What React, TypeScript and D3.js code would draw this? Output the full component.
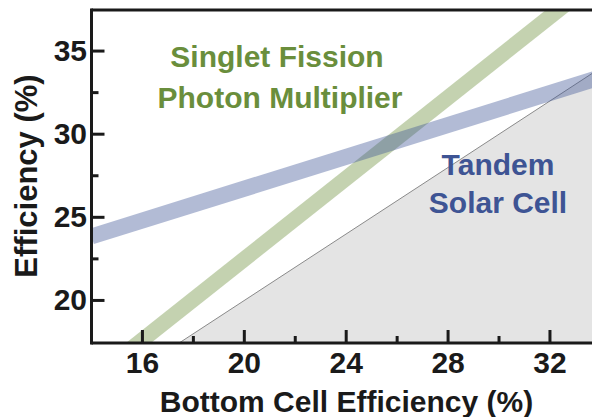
import * as d3 from "d3";
import React from "react";

// bottom cell efficiency (%) -> efficiency (%)
const singletFission = [
  { x: 14, y: 15.2 },
  { x: 34, y: 39.5 },
];
const tandem = [
  { x: 14, y: 23.85 },
  { x: 34, y: 33.43 },
];
// single junction limit (y = x), shaded below
const bottomCellOnly = [
  { x: 14, y: 14 },
  { x: 34, y: 34 },
];

const xMajor = [16, 20, 24, 28, 32];
const xMinor = [18, 22, 26, 30];
const yMajor = [20, 25, 30, 35];
const yMinor = [22.5, 27.5, 32.5];

const W = 592;
const H = 417;
const FONT = "'Liberation Sans', Arial, Helvetica, sans-serif";

export default function App() {
  const x = d3.scaleLinear().domain([14, 34]).range([91.5, 600.9]);
  const y = d3.scaleLinear().domain([17.44, 37.47]).range([343, 10]);

  const left = x(14);
  const top = y(37.47);
  const bottom = y(17.44);

  const line = d3
    .line<{ x: number; y: number }>()
    .x((d) => x(d.x))
    .y((d) => y(d.y));

  const area = d3
    .area<{ x: number; y: number }>()
    .x((d) => x(d.x))
    .y0(bottom)
    .y1((d) => y(d.y));

  return (
    <svg
      width={W}
      height={H}
      style={{ position: "absolute", left: 0, top: 0, background: "#fff" }}
    >
      <defs>
        <clipPath id="plot">
          <rect x={left} y={top} width={W - left} height={bottom - top} />
        </clipPath>
      </defs>

      <g clipPath="url(#plot)">
        <path d={area(bottomCellOnly)!} fill="#e4e4e4" />
        <path d={line(bottomCellOnly)!} fill="none" stroke="#8a8a8a" strokeWidth={1} />
        <path
          d={line(singletFission)!}
          fill="none"
          stroke="rgb(107,142,58)"
          strokeOpacity={0.4}
          strokeWidth={15.5}
        />
        <path
          d={line(tandem)!}
          fill="none"
          stroke="rgb(63,85,151)"
          strokeOpacity={0.4}
          strokeWidth={16}
        />
      </g>

      {/* frame */}
      <line x1={left} x2={W} y1={top} y2={top} stroke="#1a1a1a" strokeWidth={3} />
      <line x1={left} x2={W} y1={bottom} y2={bottom} stroke="#1a1a1a" strokeWidth={3} />
      <line x1={left} x2={left} y1={top - 1.5} y2={bottom + 1.5} stroke="#1a1a1a" strokeWidth={3} />

      {/* x ticks */}
      {xMajor.map((t) => (
        <g key={"xM" + t}>
          <line x1={x(t)} x2={x(t)} y1={bottom} y2={bottom - 13} stroke="#1a1a1a" strokeWidth={3} />
          <text
            x={x(t)}
            y={373}
            textAnchor="middle"
            fontFamily={FONT}
            fontWeight="bold"
            fontSize={30}
            fill="#1a1a1a"
          >
            {t}
          </text>
        </g>
      ))}
      {xMinor.map((t) => (
        <line key={"xm" + t} x1={x(t)} x2={x(t)} y1={bottom} y2={bottom - 7} stroke="#1a1a1a" strokeWidth={3} />
      ))}

      {/* y ticks */}
      {yMajor.map((t) => (
        <g key={"yM" + t}>
          <line x1={left} x2={left + 13} y1={y(t)} y2={y(t)} stroke="#1a1a1a" strokeWidth={3} />
          <text
            x={87}
            y={y(t) + 10}
            textAnchor="end"
            fontFamily={FONT}
            fontWeight="bold"
            fontSize={30}
            fill="#1a1a1a"
          >
            {t}
          </text>
        </g>
      ))}
      {yMinor.map((t) => (
        <line key={"ym" + t} x1={left} x2={left + 7} y1={y(t)} y2={y(t)} stroke="#1a1a1a" strokeWidth={3} />
      ))}

      {/* axis titles */}
      <text
        x={346.5}
        y={412}
        textAnchor="middle"
        fontFamily={FONT}
        fontWeight="bold"
        fontSize={30}
        fill="#1a1a1a"
      >
        Bottom Cell Efficiency (%)
      </text>
      <text
        transform="translate(37,176) rotate(-90)"
        textAnchor="middle"
        fontFamily={FONT}
        fontWeight="bold"
        fontSize={31}
        fill="#1a1a1a"
      >
        Efficiency (%)
      </text>

      {/* annotations */}
      <g fontFamily={FONT} fontWeight="bold" fontSize={30} textAnchor="middle">
        <text x={277} y={66.5} fill="#6a8e3c">Singlet Fission</text>
        <text x={280} y={108} fill="#6a8e3c">Photon Multiplier</text>
        <text x={498} y={175} fill="#3e5494">Tandem</text>
        <text x={498} y={213} fill="#3e5494">Solar Cell</text>
      </g>
    </svg>
  );
}
